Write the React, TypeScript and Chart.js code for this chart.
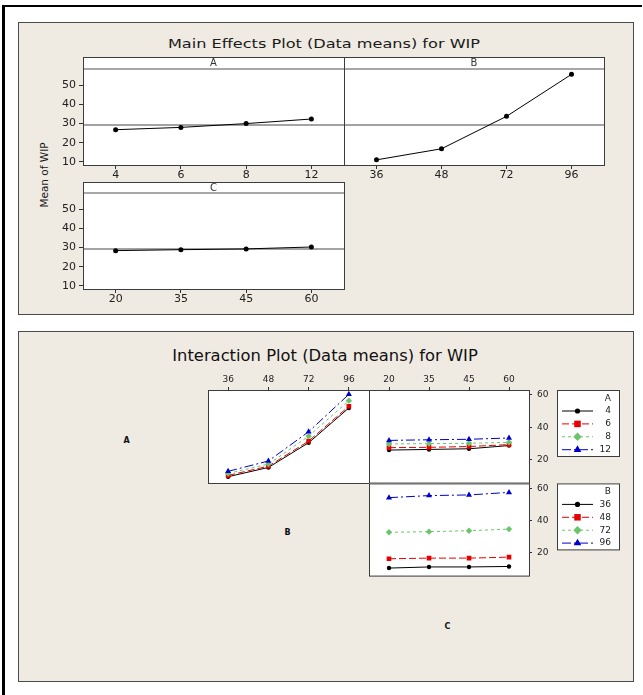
import React, { useEffect, useRef } from "react";
import { Chart, registerables } from "chart.js";

Chart.register(...registerables);

const FONT = "'DejaVu Sans', Verdana, sans-serif";
const BEIGE = "#efeae2";

// ---------------- data ----------------
const levelsA = ["4", "6", "8", "12"];
const levelsB = ["36", "48", "72", "96"];
const levelsC = ["20", "35", "45", "60"];

// main effects (means of WIP)
const meanA = [26.8, 28.0, 30.0, 32.4];
const meanB = [11.0, 16.8, 33.8, 55.8];
const meanC = [28.4, 28.9, 29.3, 30.3];
const grandMean = 29.3;
const mainTicks = [10, 20, 30, 40, 50];

// interaction A x B (x = B levels, one line per A level)
const abA4 = [9.5, 15.2, 30.5, 52.0];
const abA6 = [10.3, 16.0, 31.5, 53.0];
const abA8 = [11.5, 17.3, 34.5, 56.5];
const abA12 = [12.8, 19.2, 37.3, 60.4];

// interaction A x C (x = C levels, one line per A level)
const acA4 = [25.8, 26.2, 26.6, 28.6];
const acA6 = [27.3, 27.5, 28.0, 29.2];
const acA8 = [29.6, 29.8, 30.0, 30.6];
const acA12 = [31.8, 32.2, 32.5, 33.3];

// interaction B x C (x = C levels, one line per B level)
const bcB36 = [10.3, 11.0, 11.0, 11.3];
const bcB48 = [16.1, 16.5, 16.5, 17.1];
const bcB72 = [32.6, 33.0, 33.6, 34.6];
const bcB96 = [54.2, 55.5, 55.9, 57.5];

const interTicks = [20, 40, 60];

// ---------------- styles ----------------
const SERIES_STYLE = [
  { color: "#000000", dash: [] as number[], point: "circle", r: 2.2, lr: 2.6 },
  { color: "#e60000", dash: [7, 3], point: "rect", r: 3.3, lr: 4.6 },
  { color: "#6cc46c", dash: [3, 3], point: "rectRot", r: 3.2, lr: 4.2 },
  { color: "#0000cc", dash: [9, 3, 2, 3], point: "triangle", r: 3.5, lr: 4.4 },
];

type Spec = {
  key: string;
  area: { x: number; y: number; w: number; h: number };
  pad: { l: number; t: number; r: number; b: number };
  labels: string[];
  series: number[][];
  seriesNames?: string[];
  styled: boolean;
  yMin: number;
  yMax: number;
  yTicks: number[];
  yPos: "left" | "right" | null;
  yAxisW?: number;
  xPos: "top" | "bottom" | null;
  xAxisH?: number;
  fontSize: number;
  tickLen: number;
  xPad: number;
  yPad: number;
  header?: string;
  headerH?: number;
  refLine?: number;
  legendTitle?: string;
};

function drawMarker(ctx: CanvasRenderingContext2D, style: string, x: number, y: number, r: number, color: string) {
  ctx.save();
  ctx.fillStyle = color;
  ctx.beginPath();
  if (style === "circle") {
    ctx.arc(x, y, r, 0, Math.PI * 2);
  } else if (style === "rect") {
    const s = r * Math.SQRT1_2;
    ctx.rect(x - s, y - s, 2 * s, 2 * s);
  } else if (style === "rectRot") {
    ctx.moveTo(x, y - r);
    ctx.lineTo(x + r, y);
    ctx.lineTo(x, y + r);
    ctx.lineTo(x - r, y);
    ctx.closePath();
  } else {
    ctx.moveTo(x, y - r);
    ctx.lineTo(x + r * 0.866, y + r * 0.5);
    ctx.lineTo(x - r * 0.866, y + r * 0.5);
    ctx.closePath();
  }
  ctx.fill();
  ctx.restore();
}

function decorPlugin(s: Spec) {
  return {
    id: "decor_" + s.key,
    beforeDraw(chart: any) {
      const { ctx, chartArea: a } = chart;
      const top = a.top - (s.headerH || 0);
      ctx.save();
      ctx.fillStyle = "#ffffff";
      ctx.fillRect(a.left, top, a.right - a.left, a.bottom - top);
      ctx.restore();
    },
    beforeDatasetsDraw(chart: any) {
      if (s.refLine == null) return;
      const { ctx, chartArea: a, scales } = chart;
      const y = scales.y.getPixelForValue(s.refLine);
      ctx.save();
      ctx.strokeStyle = "#a3a3a3";
      ctx.lineWidth = 2;
      ctx.beginPath();
      ctx.moveTo(a.left, y);
      ctx.lineTo(a.right, y);
      ctx.stroke();
      ctx.restore();
    },
    afterDraw(chart: any) {
      const { ctx, chartArea: a } = chart;
      ctx.save();
      if (s.header) {
        const hTop = a.top - (s.headerH || 0);
        ctx.strokeStyle = "#8a8a8a";
        ctx.lineWidth = 1.5;
        ctx.beginPath();
        ctx.moveTo(a.left, a.top);
        ctx.lineTo(a.right, a.top);
        ctx.stroke();
        ctx.fillStyle = "#333333";
        ctx.font = `10px ${FONT}`;
        ctx.textAlign = "center";
        ctx.textBaseline = "middle";
        ctx.fillText(s.header, (a.left + a.right) / 2, hTop + (s.headerH || 0) / 2 + 0.5);
      }
      const top = a.top - (s.headerH || 0);
      ctx.strokeStyle = "#3c3c3c";
      ctx.lineWidth = 1;
      ctx.strokeRect(a.left + 0.5, top + 0.5, a.right - a.left, a.bottom - top);

      if (s.legendTitle && s.seriesNames) {
        const bx = a.right + 28;
        const by = a.top;
        const bw = 62;
        const bh = 66;
        ctx.fillStyle = "#ffffff";
        ctx.fillRect(bx, by, bw, bh);
        ctx.strokeStyle = "#3c3c3c";
        ctx.strokeRect(bx + 0.5, by + 0.5, bw, bh);
        ctx.font = `9px ${FONT}`;
        ctx.textAlign = "right";
        ctx.textBaseline = "middle";
        ctx.fillStyle = "#222222";
        ctx.fillText(s.legendTitle, bx + 54, by + 8.5);
        s.seriesNames.forEach((name, i) => {
          const st = SERIES_STYLE[i];
          const y = by + 21 + i * 12.9;
          ctx.strokeStyle = st.color;
          ctx.lineWidth = 1;
          ctx.setLineDash(st.dash);
          ctx.beginPath();
          ctx.moveTo(bx + 5, y);
          ctx.lineTo(bx + 36, y);
          ctx.stroke();
          ctx.setLineDash([]);
          drawMarker(ctx, st.point, bx + 20.5, y, st.lr, st.color);
          ctx.fillStyle = "#222222";
          ctx.fillText(name, bx + 54, y);
        });
      }
      ctx.restore();
    },
  };
}

function buildConfig(s: Spec): any {
  const n = s.series.length;
  const datasets = s.series.map((vals, i) => {
    if (!s.styled) {
      return {
        data: vals,
        borderColor: "#000000",
        backgroundColor: "#000000",
        borderWidth: 1,
        pointRadius: 2.5,
        pointStyle: "circle",
        pointBackgroundColor: "#000000",
        pointBorderWidth: 0,
        tension: 0,
      };
    }
    const st = SERIES_STYLE[i];
    return {
      label: s.seriesNames ? s.seriesNames[i] : String(i),
      data: vals,
      borderColor: st.color,
      backgroundColor: st.color,
      borderWidth: 1,
      borderDash: st.dash,
      pointStyle: st.point,
      pointRadius: st.r,
      pointBackgroundColor: st.color,
      pointBorderColor: st.color,
      pointBorderWidth: 0,
      tension: 0,
      order: n - i,
    };
  });

  const tickFont = { family: FONT, size: s.fontSize };
  const yW = s.yPos === "left" ? s.pad.l : s.yPos === "right" ? s.yAxisW || 0 : 0;
  const xH = s.xPos ? s.xAxisH || 0 : 0;
  const layoutPad = {
    left: s.yPos === "left" ? 0 : s.pad.l,
    right: s.yPos === "right" ? s.pad.r - yW : s.pad.r,
    top: s.xPos === "top" ? s.pad.t - xH : s.pad.t,
    bottom: s.xPos === "bottom" ? s.pad.b - xH : s.pad.b,
  };

  return {
    type: "line",
    data: { labels: s.labels, datasets },
    options: {
      responsive: false,
      animation: false,
      devicePixelRatio: 1,
      events: [],
      layout: { padding: layoutPad },
      plugins: {
        legend: { display: false },
        tooltip: { enabled: false },
        title: { display: false },
      },
      scales: {
        x: {
          type: "category",
          labels: s.labels,
          offset: true,
          display: !!s.xPos,
          position: s.xPos || "bottom",
          grid: {
            offset: false,
            drawOnChartArea: false,
            drawTicks: true,
            tickLength: s.tickLen,
            color: "#333333",
            lineWidth: 1,
          },
          border: { display: false },
          ticks: { font: tickFont, color: "#222222", padding: s.xPad, autoSkip: false, maxRotation: 0 },
          afterFit: (sc: any) => {
            sc.height = xH;
          },
        },
        y: {
          type: "linear",
          min: s.yMin,
          max: s.yMax,
          display: !!s.yPos,
          position: s.yPos || "left",
          afterBuildTicks: (sc: any) => {
            sc.ticks = s.yTicks.map((v) => ({ value: v }));
          },
          afterFit: (sc: any) => {
            sc.width = yW;
          },
          grid: {
            drawOnChartArea: false,
            drawTicks: true,
            tickLength: s.tickLen,
            color: "#333333",
            lineWidth: 1,
          },
          border: { display: false },
          ticks: { font: tickFont, color: "#222222", padding: s.yPad, autoSkip: false },
        },
      },
    },
    plugins: [decorPlugin(s)],
  };
}

function Panel({ spec }: { spec: Spec }) {
  const ref = useRef<HTMLCanvasElement | null>(null);
  useEffect(() => {
    if (!ref.current) return;
    const chart = new Chart(ref.current, buildConfig(spec));
    return () => chart.destroy();
  }, [spec]);
  const left = spec.area.x - spec.pad.l;
  const top = spec.area.y - spec.pad.t;
  const width = spec.area.w + spec.pad.l + spec.pad.r;
  const height = spec.area.h + spec.pad.t + spec.pad.b;
  return (
    <canvas
      ref={ref}
      width={width}
      height={height}
      style={{ position: "absolute", left, top, width, height }}
    />
  );
}

// ---------------- panel specs ----------------
const ME_MIN = 8.3;
const ME_MAX = 58.6;
const IN_MIN = 5.6;
const IN_MAX = 63.1;

const mainBase = {
  styled: false,
  yMin: ME_MIN,
  yMax: ME_MAX,
  yTicks: mainTicks,
  xPos: "bottom" as const,
  xAxisH: 26,
  fontSize: 11,
  tickLen: 4,
  xPad: 0,
  yPad: 3,
  refLine: grandMean,
};

const specA: Spec = {
  ...mainBase,
  key: "mA",
  area: { x: 83, y: 69, w: 261, h: 96 },
  pad: { l: 45, t: 22, r: 10, b: 26 },
  labels: levelsA,
  series: [meanA],
  yPos: "left",
  header: "A",
  headerH: 12,
};

const specB: Spec = {
  ...mainBase,
  key: "mB",
  area: { x: 344, y: 69, w: 260, h: 96 },
  pad: { l: 10, t: 22, r: 10, b: 26 },
  labels: levelsB,
  series: [meanB],
  yPos: null,
  header: "B",
  headerH: 12,
};

const specC: Spec = {
  ...mainBase,
  key: "mC",
  area: { x: 83, y: 193, w: 261, h: 96 },
  pad: { l: 45, t: 21, r: 10, b: 26 },
  labels: levelsC,
  series: [meanC],
  yPos: "left",
  header: "C",
  headerH: 11,
};

const interBase = {
  styled: true,
  yMin: IN_MIN,
  yMax: IN_MAX,
  yTicks: interTicks,
  fontSize: 9,
  tickLen: 3,
  xPad: 2,
  yPad: 5,
};

const specAB: Spec = {
  ...interBase,
  key: "iAB",
  area: { x: 208, y: 390, w: 161, h: 93 },
  pad: { l: 10, t: 22, r: 10, b: 10 },
  labels: levelsB,
  series: [abA4, abA6, abA8, abA12],
  seriesNames: levelsA,
  yPos: null,
  xPos: "top",
  xAxisH: 18,
};

const specAC: Spec = {
  ...interBase,
  key: "iAC",
  area: { x: 369, y: 390, w: 160, h: 93 },
  pad: { l: 10, t: 22, r: 95, b: 10 },
  labels: levelsC,
  series: [acA4, acA6, acA8, acA12],
  seriesNames: levelsA,
  yPos: "right",
  yAxisW: 25,
  xPos: "top",
  xAxisH: 18,
  legendTitle: "A",
};

const specBC: Spec = {
  ...interBase,
  key: "iBC",
  area: { x: 369, y: 483, w: 160, h: 93 },
  pad: { l: 10, t: 10, r: 95, b: 10 },
  labels: levelsC,
  series: [bcB36, bcB48, bcB72, bcB96],
  seriesNames: levelsB,
  yPos: "right",
  yAxisW: 25,
  xPos: null,
  legendTitle: "B",
};

const abs = (left: number, top: number): React.CSSProperties => ({
  position: "absolute",
  left,
  top,
  whiteSpace: "nowrap",
  lineHeight: 1,
});

export default function App() {
  return (
    <div
      style={{
        position: "absolute",
        left: 0,
        top: 0,
        width: 643,
        height: 695,
        background: "#ffffff",
        overflow: "hidden",
        fontFamily: FONT,
      }}
    >
      {/* outer frame */}
      <div style={{ position: "absolute", left: 2, top: 5, width: 640, height: 2, background: "#000" }} />
      <div style={{ position: "absolute", left: 2, top: 5, width: 3, height: 690, background: "#000" }} />

      {/* main effects panel */}
      <div
        style={{
          position: "absolute",
          left: 18,
          top: 22,
          width: 614,
          height: 291,
          background: BEIGE,
          border: "1px solid #4a4a4a",
        }}
      />
      <div
        style={{
          ...abs(324, 43),
          transform: "translate(-50%, -50%) scaleX(1.24)",
          fontSize: 13,
          color: "#1a1a1a",
        }}
      >
        Main Effects Plot (Data means) for WIP
      </div>
      <div
        style={{
          ...abs(44, 175),
          transform: "translate(-50%, -50%) rotate(-90deg)",
          fontSize: 10.5,
          color: "#1a1a1a",
        }}
      >
        Mean of WIP
      </div>
      <Panel spec={specA} />
      <Panel spec={specB} />
      <Panel spec={specC} />

      {/* interaction panel */}
      <div
        style={{
          position: "absolute",
          left: 18,
          top: 331,
          width: 614,
          height: 349,
          background: BEIGE,
          border: "1px solid #4a4a4a",
        }}
      />
      <div
        style={{
          ...abs(324.5, 356),
          transform: "translate(-50%, -50%) scaleX(1.09)",
          fontSize: 15,
          color: "#111111",
        }}
      >
        Interaction Plot (Data means) for WIP
      </div>
      <div style={{ ...abs(126.5, 441), transform: "translate(-50%, -50%)", fontSize: 8, fontWeight: "bold", color: "#111" }}>
        A
      </div>
      <div style={{ ...abs(287.5, 533), transform: "translate(-50%, -50%)", fontSize: 8, fontWeight: "bold", color: "#111" }}>
        B
      </div>
      <div style={{ ...abs(447.5, 626.5), transform: "translate(-50%, -50%)", fontSize: 8, fontWeight: "bold", color: "#111" }}>
        C
      </div>
      <Panel spec={specAB} />
      <Panel spec={specAC} />
      <Panel spec={specBC} />
    </div>
  );
}
